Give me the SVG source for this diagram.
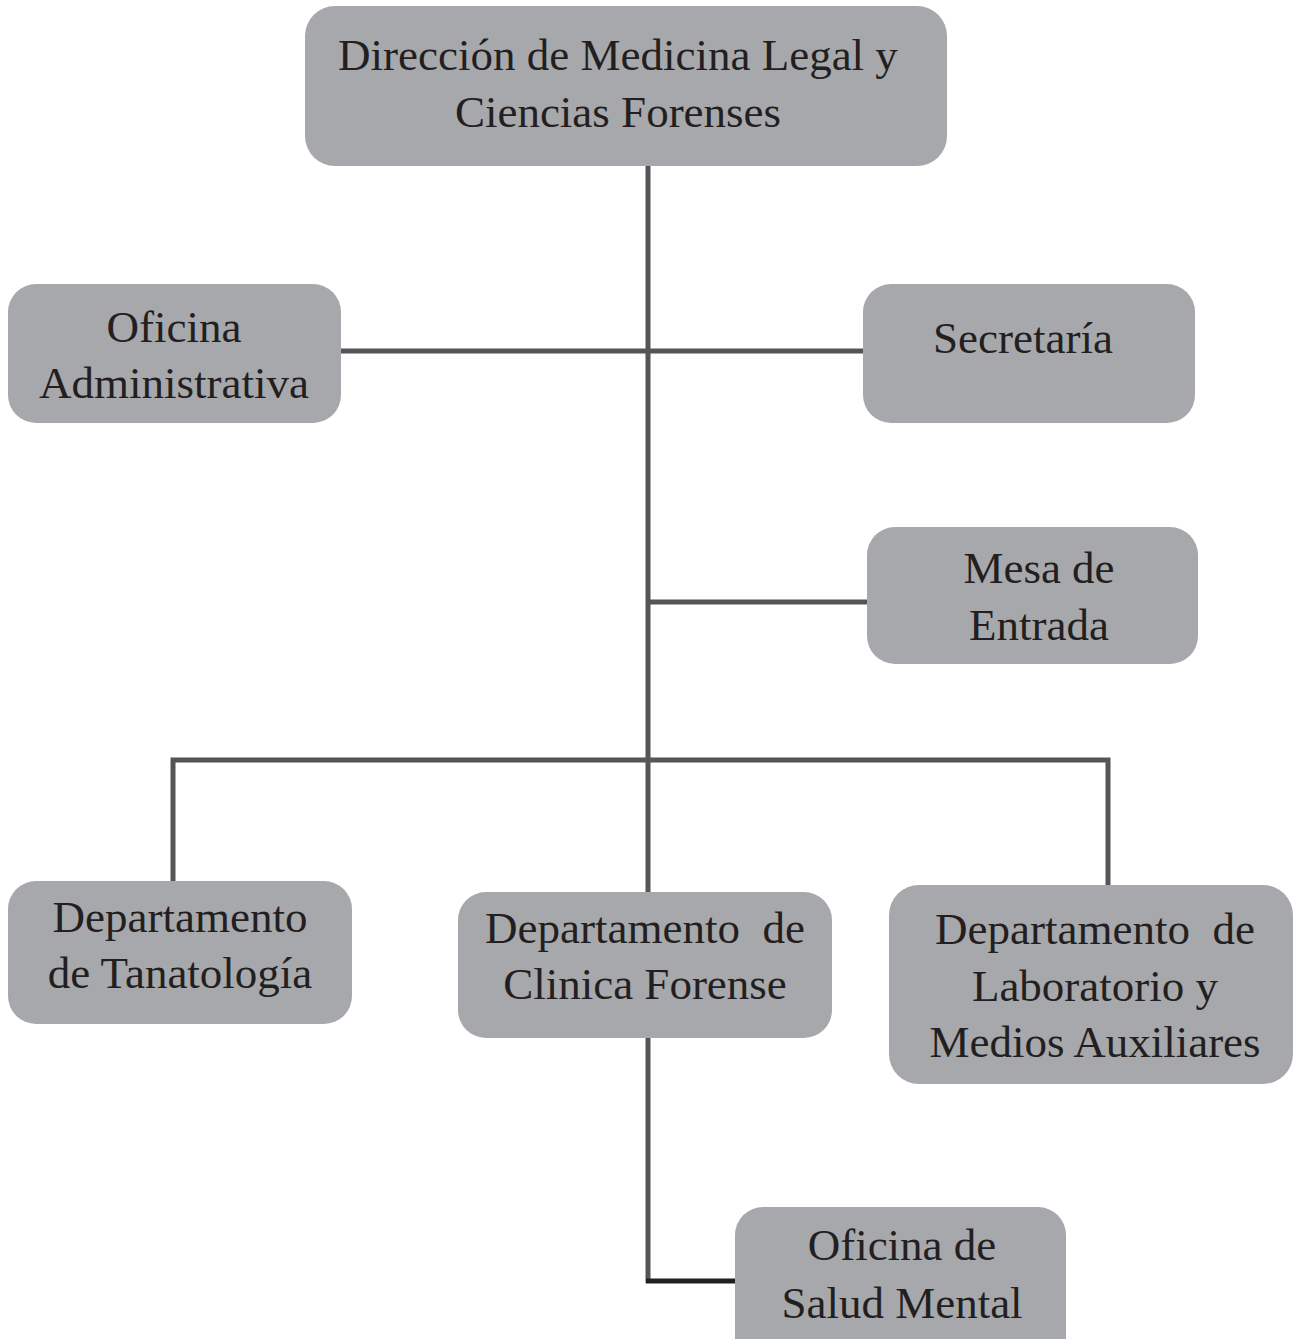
<svg xmlns="http://www.w3.org/2000/svg" width="1293" height="1339" viewBox="0 0 1293 1339">
<style>
.box{fill:#a7a8ab}
.t{font-family:"Liberation Serif","DejaVu Serif",serif;font-size:45px;fill:#231f20;text-anchor:middle;white-space:pre}
.ln{stroke:#545557;stroke-width:5;fill:none}
.dk{stroke:#231f20;stroke-width:5;fill:none}
</style>
<rect width="1293" height="1339" fill="#ffffff"/>
<g id="connectors">
<line class="ln" x1="648" y1="166" x2="648" y2="892"/>
<line class="ln" x1="341" y1="351" x2="863" y2="351"/>
<line class="ln" x1="648" y1="602" x2="867" y2="602"/>
<polyline class="ln" points="173,882 173,760 1108,760 1108,885"/>
<line class="ln" x1="648" y1="1038" x2="648" y2="1283"/>
<line class="dk" x1="646" y1="1281" x2="736" y2="1281"/>
</g>
<g id="n-direccion">
<rect class="box" x="305" y="6" width="642" height="160" rx="30"/>
<text class="t" x="618" y="70">Dirección de Medicina Legal y</text>
<text class="t" x="618" y="127">Ciencias Forenses</text>
</g>
<g id="n-oficina-adm">
<rect class="box" x="8" y="284" width="333" height="139" rx="28"/>
<text class="t" x="174" y="342">Oficina</text>
<text class="t" x="174" y="398">Administrativa</text>
</g>
<g id="n-secretaria">
<rect class="box" x="863" y="284" width="332" height="139" rx="28"/>
<text class="t" x="1023" y="353">Secretaría</text>
</g>
<g id="n-mesa">
<rect class="box" x="867" y="527" width="331" height="137" rx="28"/>
<text class="t" x="1039" y="583">Mesa de</text>
<text class="t" x="1039" y="640">Entrada</text>
</g>
<g id="n-tanatologia">
<rect class="box" x="8" y="881" width="344" height="143" rx="28"/>
<text class="t" x="180" y="932">Departamento</text>
<text class="t" x="180" y="988">de Tanatología</text>
</g>
<g id="n-clinica">
<rect class="box" x="458" y="892" width="374" height="146" rx="28"/>
<text class="t" x="645" y="943" xml:space="preserve">Departamento  de</text>
<text class="t" x="645" y="999">Clinica Forense</text>
</g>
<g id="n-laboratorio">
<rect class="box" x="889" y="885" width="404" height="199" rx="30"/>
<text class="t" x="1095" y="944" xml:space="preserve">Departamento  de</text>
<text class="t" x="1095" y="1001">Laboratorio y</text>
<text class="t" x="1095" y="1057">Medios Auxiliares</text>
</g>
<g id="n-salud">
<rect class="box" x="735" y="1207" width="331" height="160" rx="28"/>
<text class="t" x="902" y="1260">Oficina de</text>
<text class="t" x="902" y="1318">Salud Mental</text>
</g>
</svg>
